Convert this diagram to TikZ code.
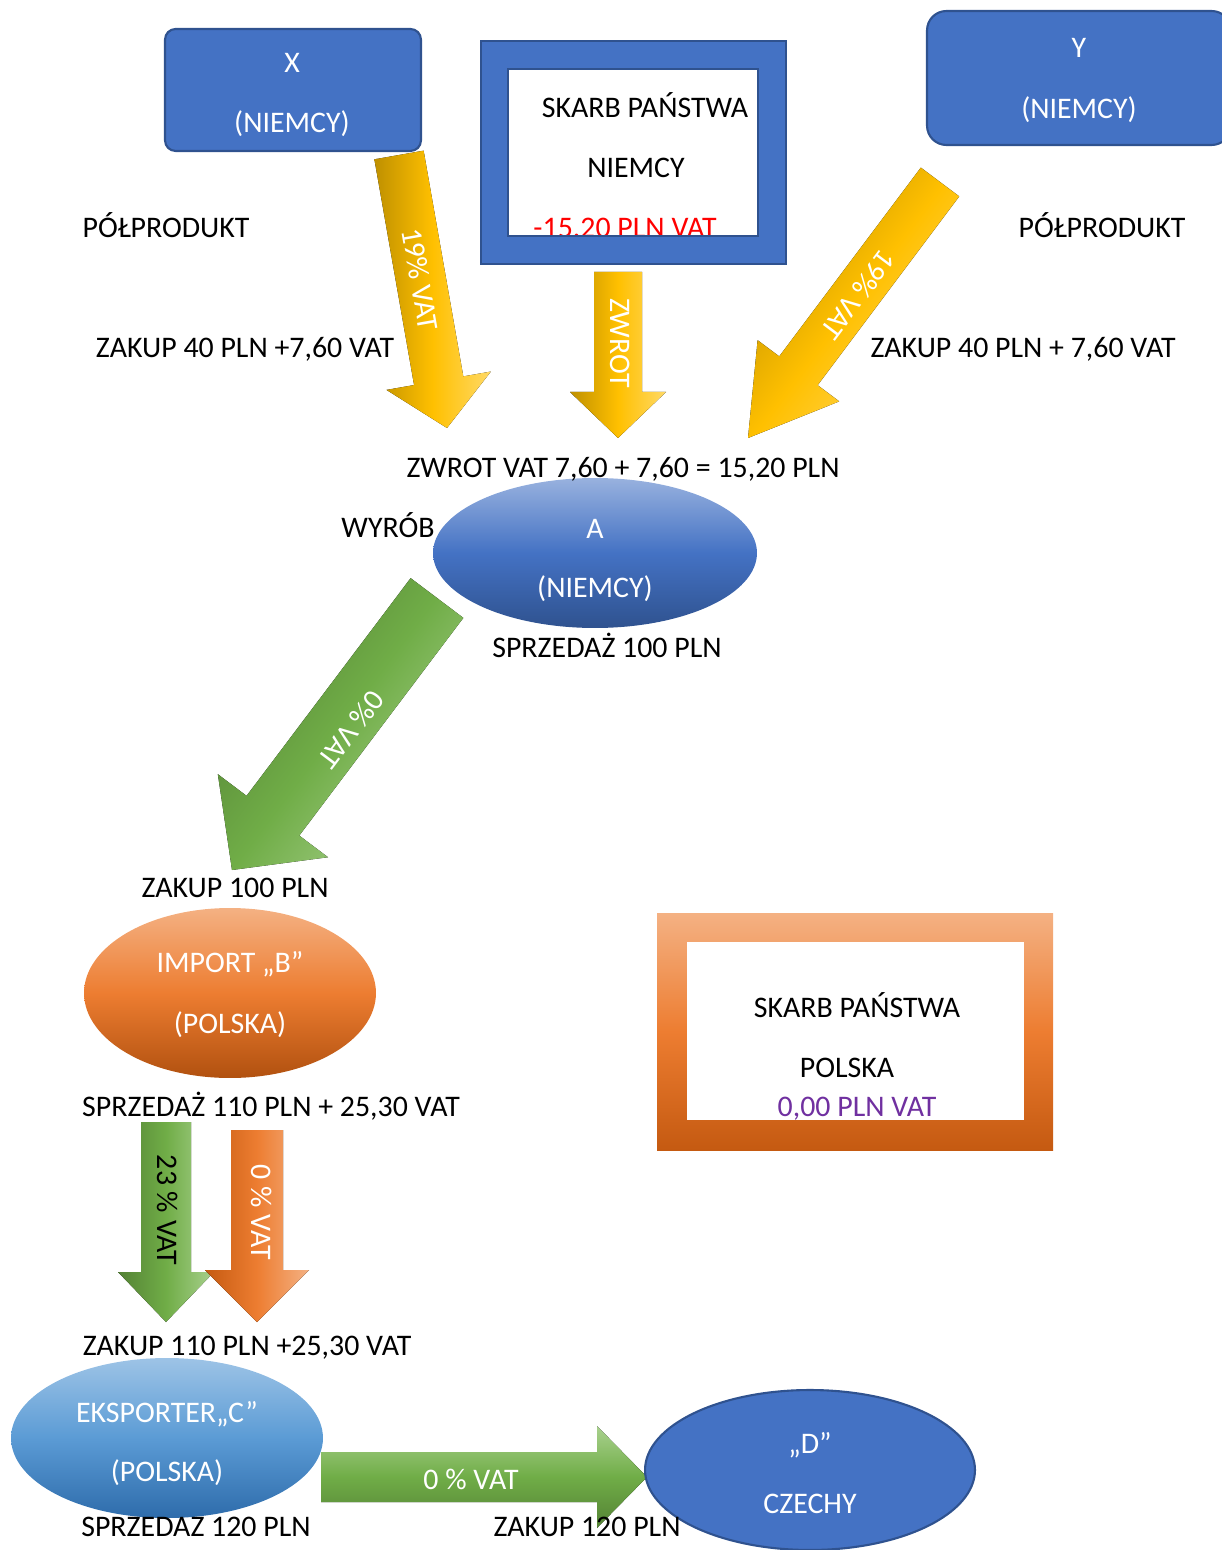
\documentclass[tikz,border=0pt]{standalone}
\usepackage{fontspec}
\setmainfont{Carlito}
\usetikzlibrary{calc,shapes.geometric}

\definecolor{blue1}{HTML}{4472C4}
\definecolor{blueedge}{HTML}{2F528F}
\definecolor{sky1}{HTML}{9DC3E6}
\definecolor{sky2}{HTML}{5B9BD5}
\definecolor{sky3}{HTML}{2E6CAB}
\definecolor{gold1}{HTML}{BF9000}
\definecolor{gold2}{HTML}{FFC000}
\definecolor{gold3}{HTML}{FFD966}
\definecolor{green1}{HTML}{548235}
\definecolor{green2}{HTML}{70AD47}
\definecolor{green3}{HTML}{A9D18E}
\definecolor{orange1}{HTML}{C55A11}
\definecolor{orange2}{HTML}{ED7D31}
\definecolor{orange3}{HTML}{F4B183}
\definecolor{purple1}{HTML}{7030A0}

% block arrow: style, tail, tip, half shaft, half head, head length (px)
\newcommand\vatarrow[6]{%
	\coordinate (hb) at ($(#3)!#6*0.02cm!(#2)$);
	\fill[#1] ($(#2)!#4*0.02cm!90:(#3)$) -- ($(hb)!#4*0.02cm!90:(#3)$)
		-- ($(hb)!#5*0.02cm!90:(#3)$) -- (#3) -- ($(hb)!#5*0.02cm!-90:(#3)$)
		-- ($(hb)!#4*0.02cm!-90:(#3)$) -- ($(#2)!#4*0.02cm!-90:(#3)$) -- cycle;
}

\begin{document}
\begin{tikzpicture}[x=0.02cm, y=-0.02cm, font=\fontsize{17}{20}\selectfont,
	txt/.style={inner sep=0pt, text height=0.64em, text depth=0pt},
	wtxt/.style={txt, text=white},
	box/.style={rectangle, draw=blueedge, line width=1.2pt, fill=blue1, inner sep=0pt},
	oval/.style={ellipse, inner sep=0pt},
	yellowarrow/.style={left color=gold1, right color=gold3, middle color=gold2},
	slantyellow/.style={top color=gold1, bottom color=gold3, middle color=gold2, shading angle=53},
	greenarrow/.style={left color=green1, right color=green3, middle color=green2},
	slantgreen/.style={top color=green1, bottom color=green3, middle color=green2, shading angle=53},
	orangearrow/.style={left color=orange1, right color=orange3, middle color=orange2}]

	\useasboundingbox (0,0) rectangle (1221,1550);

	% suppliers
	\node[box, rounded corners=6pt, minimum width=5.12cm, minimum height=2.44cm] (x) at (293,90) {};
	\node[wtxt] (xname) at (292,67) {X};
	\node[wtxt] (xland) at (292,127) {(NIEMCY)};
	\node[box, rounded corners=11pt, minimum width=6.08cm, minimum height=2.68cm] (y) at (1079,78) {};
	\node[wtxt] (yname) at (1079,52) {Y};
	\node[wtxt] (yland) at (1079,113) {(NIEMCY)};

	% skarb panstwa niemcy
	\node[txt] (skarbde) at (645,112) {SKARB PAŃSTWA};
	\node[txt] (niemcy) at (636,172) {NIEMCY};
	\node[txt, text=red] (minusvat) at (625,232) {-15.20 PLN VAT};
	\filldraw[fill=blue1, draw=blueedge, line width=1pt, even odd rule] (481,41) rectangle (786,264) (508,69) rectangle (758,236);

	% arrows into A
	\coordinate (xt) at (399,155);
	\coordinate (xh) at (447,428);
	\vatarrow{yellowarrow}{xt}{xh}{25}{53}{48}
	\node[wtxt, rotate=-80] (xvat) at (416,280) {19\% VAT};

	\coordinate (yt) at (940,182);
	\coordinate (yh) at (748,438);
	\vatarrow{slantyellow}{yt}{yh}{24}{51}{84}
	\node[wtxt, rotate=-127] (yvat) at (855,292) {19\% VAT};

	\coordinate (zt) at (618,272);
	\coordinate (zh) at (618,438);
	\vatarrow{yellowarrow}{zt}{zh}{24}{48}{46}
	\node[wtxt, rotate=-90] (zwrot) at (616,343) {ZWROT};

	% A to B
	\coordinate (at) at (437,598);
	\coordinate (ah) at (232,870);
	\vatarrow{slantgreen}{at}{ah}{33}{69}{68}
	\node[wtxt, rotate=-127] (avat) at (348,727) {0\% VAT};

	% B to C
	\coordinate (bt1) at (166,1122);
	\coordinate (bh1) at (166,1322);
	\vatarrow{greenarrow}{bt1}{bh1}{25}{48}{50}
	\node[txt, rotate=-90] (bvat1) at (163,1210) {23 \% VAT};
	\coordinate (bt2) at (257,1130);
	\coordinate (bh2) at (257,1322);
	\vatarrow{orangearrow}{bt2}{bh2}{26}{52}{52}
	\node[wtxt, rotate=-90] (bvat2) at (257,1212) {0 \% VAT};

	% C to D
	\coordinate (ct) at (321,1477);
	\coordinate (ch) at (647,1477);
	\vatarrow{top color=green3, bottom color=green1, middle color=green2}{ct}{ch}{25}{51}{50}
	\node[wtxt] (cvat) at (471,1484) {0 \% VAT};

	% firms
	\node[oval, top color=blue1!55!white, bottom color=blueedge, middle color=blue1, minimum width=6.48cm, minimum height=3cm] (a) at (595,553) {};
	\node[wtxt] (aname) at (595,533) {A};
	\node[wtxt] (aland) at (595,592) {(NIEMCY)};
	\node[oval, top color=orange3, bottom color=orange1!90!black, middle color=orange2, minimum width=5.84cm, minimum height=3.4cm] (b) at (230,993) {};
	\node[wtxt] (bname) at (230,967) {IMPORT „B”};
	\node[wtxt] (bland) at (230,1028) {(POLSKA)};
	\node[oval, top color=sky1, bottom color=sky3, middle color=sky2, minimum width=6.24cm, minimum height=3.2cm] (c) at (167,1438) {};
	\node[wtxt] (cname) at (167,1417) {EKSPORTER„C”};
	\node[wtxt] (cland) at (167,1476) {(POLSKA)};
	\node[oval, fill=blue1, draw=blueedge, line width=1.2pt, minimum width=6.6cm, minimum height=3.2cm] (d) at (810,1470) {};
	\node[wtxt] (dname) at (810,1448) {„D”};
	\node[wtxt] (dland) at (810,1508) {CZECHY};

	% skarb panstwa polska
	\shade[top color=orange3, bottom color=orange1, middle color=orange2] (657,913) rectangle (1053,1150);
	\fill[white] (687,942) rectangle (1024,1120);
	\node[txt] (skarbpl) at (857,1012) {SKARB PAŃSTWA};
	\node[txt] (polska) at (847,1072) {POLSKA};
	\node[txt, text=purple1] (zerovat) at (857,1111) {0,00 PLN VAT};

	% labels
	\node[txt] (polprodx) at (166,232) {PÓŁPRODUKT};
	\node[txt] (polprody) at (1102,232) {PÓŁPRODUKT};
	\node[txt] (zakupx) at (245,352) {ZAKUP 40 PLN +7,60 VAT};
	\node[txt] (zakupy) at (1023,352) {ZAKUP 40 PLN + 7,60 VAT};
	\node[txt] (zwrotvat) at (623,472) {ZWROT VAT 7,60 + 7,60 = 15,20 PLN};
	\node[txt] (wyrob) at (388,532) {WYRÓB};
	\node[txt] (sprzedaza) at (607,652) {SPRZEDAŻ 100 PLN};
	\node[txt] (zakupb) at (235,892) {ZAKUP 100 PLN};
	\node[txt] (sprzedazb) at (271,1111) {SPRZEDAŻ 110 PLN + 25,30 VAT};
	\node[txt] (zakupc) at (247,1350) {ZAKUP 110 PLN +25,30 VAT};
	\node[txt] (sprzedazc) at (196,1531) {SPRZEDAZ 120 PLN};
	\node[txt] (zakupd) at (587,1531) {ZAKUP 120 PLN};
\end{tikzpicture}
\end{document}
